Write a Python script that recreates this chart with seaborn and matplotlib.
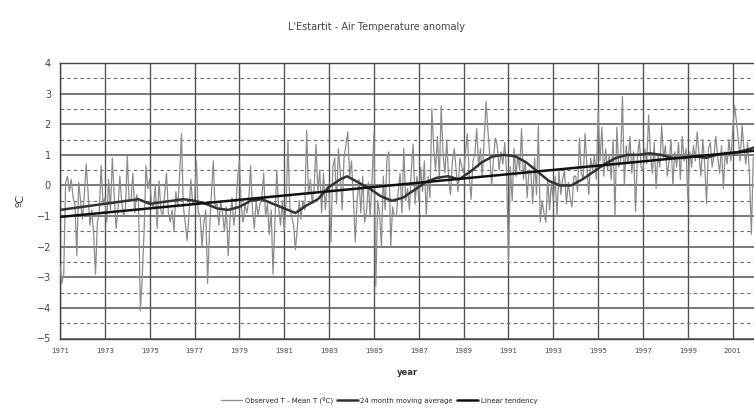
import numpy as np
import pandas as pd
import matplotlib
matplotlib.use("Agg")
import matplotlib.pyplot as plt
import seaborn as sns

# ---------------- data ----------------
start_year = 1971
obs_1971 = [-2.6, -3.2, -2.9, 0.1, 0.3, -0.2, 0.2, -0.4, -0.6, -2.3, 0.1, -0.5]
obs_1972 = [-1.1, -0.3, 0.7, -0.2, -1.3, -0.8, -1.6, -2.9, -1.2, -0.9, 0.65, -0.6]
obs_1973 = [-0.4, -1.2, 0.2, -0.8, 0.9, -0.3, -1.4, -0.8, 0.3, -0.5, -1.0, -0.8]
obs_1974 = [0.95, -0.5, -0.5, 0.4, -0.9, -0.3, -0.5, -4.1, -3.0, -1.5, 0.65, -0.1]
obs_1975 = [0.2, -0.6, -0.7, 0.0, -1.4, 0.15, -0.8, -1.0, -0.3, 0.4, -0.9, -1.2]
obs_1976 = [-0.8, -1.5, -0.2, -0.7, 0.3, 1.7, -0.7, -1.2, -1.8, -1.0, 0.2, -0.6]
obs_1977 = [-0.5, 0.8, -0.9, -1.0, -2.0, -1.2, -0.8, -3.2, -1.5, -0.3, 0.8, -0.7]
obs_1978 = [-0.6, -1.3, -0.5, -0.9, -1.5, -0.7, -2.3, -1.1, -0.4, -1.3, -0.8, 0.2]
obs_1979 = [0.8, -0.7, -1.2, -0.6, -0.9, -0.5, 0.65, -0.8, -1.4, -0.5, -1.0, -0.6]
obs_1980 = [-0.4, 0.4, -1.0, -0.6, -1.6, -0.8, -2.9, -1.2, 0.5, -0.7, -1.3, -0.5]
obs_1981 = [-1.5, -0.6, 1.45, -0.7, -1.0, -1.3, -2.1, -1.4, -0.5, -1.1, -0.5, -0.8]
obs_1982 = [1.8, -0.3, 0.2, -0.6, -0.1, 1.35, -0.2, 0.5, -0.9, 0.4, -0.8, 0.0]
obs_1983 = [-0.2, -1.85, 0.6, 0.9, -0.6, 1.2, 0.4, -0.8, 0.9, 1.3, 1.75, 0.3]
obs_1984 = [0.8, -0.4, -1.85, -0.5, 0.2, -0.9, 0.3, -1.2, -0.9, 0.1, -1.0, 0.2]
obs_1985 = [1.7, -3.3, -0.5, -0.9, -2.0, 0.3, -0.8, 0.9, 1.1, -2.0, -0.7, -1.0]
obs_1986 = [-1.0, -0.2, 0.4, -0.9, 1.2, -0.5, -0.1, -0.8, 0.5, 1.35, -0.6, 0.3]
obs_1987 = [-0.5, 0.6, -0.2, 0.8, -1.0, 0.3, -0.4, 2.5, 1.2, 0.5, 1.6, 0.2]
obs_1988 = [2.6, 1.0, 0.4, 1.5, 0.2, -0.3, 0.8, 1.2, 0.5, -0.2, 0.9, 0.6]
obs_1989 = [0.4, 1.1, 1.7, 0.3, -0.45, 0.8, 1.0, 1.85, 0.6, 1.2, 0.3, 1.5]
obs_1990 = [2.75, 1.8, 1.0, 0.0, 0.9, 1.55, 1.3, 0.5, 1.1, 0.7, 1.4, 0.4]
obs_1991 = [-2.5, 0.6, -0.5, 1.2, 0.3, 1.0, 0.5, 1.85, 0.2, 0.8, -0.4, 0.5]
obs_1992 = [0.4, -0.6, 0.9, -0.3, 1.95, -1.2, -0.5, -0.9, -1.2, 0.2, -0.8, 0.1]
obs_1993 = [-0.5, 0.3, -1.0, 0.5, -0.3, 0.2, 0.5, -0.6, 0.1, -0.4, -0.7, 0.3]
obs_1994 = [0.3, -0.2, 1.55, 0.4, 0.2, 1.7, 0.6, -0.3, 0.9, 0.5, 1.0, 0.2]
obs_1995 = [2.4, 0.8, 1.9, 0.3, 1.2, 0.5, 1.0, 0.2, 1.5, -1.0, 1.9, 0.6]
obs_1996 = [0.8, 2.9, 0.0, 1.3, 0.7, 1.6, 0.4, 1.1, -0.85, 0.9, 1.5, 0.6]
obs_1997 = [0.5, 1.2, 0.7, 2.3, 1.0, 0.4, 1.4, -0.1, 1.0, 0.6, 1.95, 0.9]
obs_1998 = [1.3, 0.3, 0.8, 1.5, 0.0, 1.1, 0.6, 1.4, 0.2, 1.6, 0.8, 1.2]
obs_1999 = [-0.45, 1.1, 0.6, 1.3, 0.8, 1.75, 1.0, 0.3, 1.5, 0.7, -0.6, 1.2]
obs_2000 = [1.4, 0.6, 1.0, 1.6, 0.9, 0.4, 1.3, -0.1, 1.1, 0.7, 1.5, 0.8]
obs_2001 = [1.8, 2.6, 2.1, 1.5, 0.8, 1.96, 1.2, 0.7, 1.4, 0.3, -1.6, 0.9]
obs_2002 = [1.0]

ma_years = [1971.0, 1971.5, 1972.0, 1972.5, 1973.0, 1973.5, 1974.0, 1974.5,
            1975.0, 1975.5, 1976.0, 1976.5, 1977.0, 1977.5, 1978.0, 1978.5,
            1979.0, 1979.5, 1980.0, 1980.5, 1981.0, 1981.5, 1982.0, 1982.5,
            1983.0, 1983.5, 1983.8, 1984.3, 1984.8, 1985.3, 1985.8, 1986.3,
            1986.8, 1987.3, 1987.8, 1988.3, 1988.8, 1989.3, 1989.8, 1990.3,
            1990.8, 1991.3, 1991.8, 1992.3, 1992.8, 1993.3, 1993.8, 1994.3,
            1994.8, 1995.3, 1995.8, 1996.3, 1996.8, 1997.3, 1997.8, 1998.3,
            1998.8, 1999.3, 1999.8, 2000.3, 2000.8, 2001.3, 2001.8, 2002.0]
ma_vals = [-0.8, -0.75, -0.7, -0.65, -0.6, -0.55, -0.5, -0.45,
           -0.6, -0.55, -0.5, -0.45, -0.5, -0.6, -0.75, -0.8,
           -0.7, -0.5, -0.45, -0.6, -0.75, -0.9, -0.65, -0.45,
           -0.05, 0.2, 0.3, 0.1, -0.1, -0.35, -0.5, -0.4,
           -0.15, 0.1, 0.25, 0.3, 0.2, 0.45, 0.75, 0.95,
           1.0, 0.95, 0.75, 0.45, 0.15, 0.0, 0.0, 0.2,
           0.45, 0.7, 0.9, 1.0, 1.0, 1.05, 1.0, 0.9,
           0.9, 0.95, 0.9, 1.0, 1.05, 1.1, 1.2, 1.25]

tick_years = list(range(1971, 2002, 2))
tick_labels = [str(y) for y in tick_years]

title = "L'Estartit - Air Temperature anomaly"
xlabel = "year"
ylabel = "ºC"
legend_labels = ["Observed T - Mean T (ºC)", "24 month moving average", "Linear tendency"]

# ---------------- build frames ----------------
obs = (obs_1971 + obs_1972 + obs_1973 + obs_1974 + obs_1975 + obs_1976 + obs_1977 +
       obs_1978 + obs_1979 + obs_1980 + obs_1981 + obs_1982 + obs_1983 + obs_1984 +
       obs_1985 + obs_1986 + obs_1987 + obs_1988 + obs_1989 + obs_1990 + obs_1991 +
       obs_1992 + obs_1993 + obs_1994 + obs_1995 + obs_1996 + obs_1997 + obs_1998 +
       obs_1999 + obs_2000 + obs_2001 + obs_2002)
t = start_year + np.arange(len(obs)) / 12.0
df_obs = pd.DataFrame({"year": t, "anom": obs})
df_ma = pd.DataFrame({"year": ma_years, "anom": ma_vals})
coef = np.polyfit(df_obs["year"], df_obs["anom"], 1)
trend_x = np.array([t[0], t[-1]])
df_tr = pd.DataFrame({"year": trend_x, "anom": np.polyval(coef, trend_x)})

# ---------------- plot ----------------
sns.set_style("white")
plt.rcParams["font.family"] = ["DejaVu Sans"]
fig = plt.figure(figsize=(7.54, 4.08), dpi=100)
ax = fig.add_axes([60 / 754, 1 - 338.5 / 408, 1 - 60 / 754, (338.5 - 63) / 408])

sns.lineplot(data=df_obs, x="year", y="anom", ax=ax, color="#8c8c8c", lw=0.9,
             label=legend_labels[0], zorder=3)
sns.lineplot(data=df_ma, x="year", y="anom", ax=ax, color="#333333", lw=1.8,
             label=legend_labels[1], zorder=4)
sns.lineplot(data=df_tr, x="year", y="anom", ax=ax, color="#111111", lw=1.8,
             label=legend_labels[2], zorder=5)

ax.set_xlim(1971, 2001.95)
ax.set_ylim(-5, 4)
ax.set_yticks(np.arange(-5, 5, 1))
ax.set_yticks(np.arange(-4.5, 4, 1), minor=True)
ax.set_xticks(tick_years)
ax.set_xticklabels(tick_labels, fontsize=5, color="#444444")
ax.tick_params(axis="y", labelsize=7, colors="#444444", length=3)
ax.tick_params(axis="x", length=3, pad=4)
ax.grid(True, which="major", axis="y", color="#555555", lw=1.1)
ax.grid(True, which="minor", axis="y", color="#666666", lw=0.8, ls=(0, (3, 3)))
ax.grid(True, which="major", axis="x", color="#555555", lw=1.0)
for s in ax.spines.values():
    s.set_color("#444444")
    s.set_linewidth(1.0)
ax.spines["right"].set_visible(False)

ax.set_xlabel(xlabel, fontsize=6, fontweight="bold", color="#333333", labelpad=10)
ax.set_ylabel(ylabel, fontsize=8, color="#333333", labelpad=8)
fig.text(0.5, 1 - 27 / 408, title, ha="center", va="center", fontsize=7, color="#444444")

leg = ax.legend(loc="center", bbox_to_anchor=(0.46, -0.225), ncol=3, frameon=False,
                fontsize=5, handlelength=3, columnspacing=0.6, handletextpad=0.4)

fig.savefig("out.png", dpi=100)
